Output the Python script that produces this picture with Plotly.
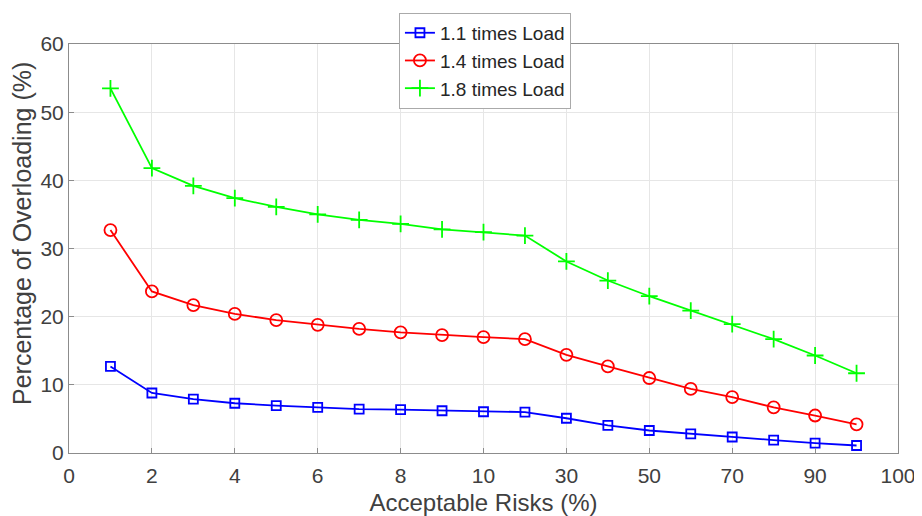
import plotly.graph_objects as go

risks = ["1", "2", "3", "4", "5", "6", "7", "8", "9", "10",
         "20", "30", "40", "50", "60", "70", "80", "90", "100"]
load_11 = [12.7, 8.8, 7.9, 7.3, 6.95, 6.7, 6.45, 6.35, 6.2, 6.05,
           6.0, 5.1, 4.05, 3.3, 2.8, 2.35, 1.9, 1.45, 1.1]
load_14 = [32.7, 23.7, 21.7, 20.4, 19.5, 18.8, 18.2, 17.7, 17.3, 17.0,
           16.7, 14.4, 12.7, 11.0, 9.4, 8.2, 6.7, 5.5, 4.2]
load_18 = [53.5, 41.8, 39.2, 37.4, 36.1, 35.0, 34.2, 33.6, 32.8, 32.4,
           31.9, 28.1, 25.3, 23.0, 20.9, 18.9, 16.7, 14.3, 11.7]
series_names = ["1.1 times Load", "1.4 times Load", "1.8 times Load"]
tick_positions = [0, 2, 4, 6, 8, 10, 12, 14, 16, 18, 20]
tick_labels = ["0", "2", "4", "6", "8", "10", "30", "50", "70", "90", "100"]
y_ticks = [0, 10, 20, 30, 40, 50, 60]

x_pos = list(range(1, len(risks) + 1))

FONT = "Liberation Sans, Arial, sans-serif"

fig = go.Figure()
styles = [
    ("#0000ff", "square-open", 9),
    ("#ff0000", "circle-open", 12),
    ("#00ff00", "cross-thin-open", 12),
]
for name, vals, (col, sym, sz) in zip(series_names, [load_11, load_14, load_18], styles):
    fig.add_trace(go.Scatter(
        x=x_pos, y=vals, name=name, mode="lines+markers",
        customdata=risks,
        line=dict(color=col, width=1.8),
        marker=dict(symbol=sym, size=sz, color=col, line=dict(color=col, width=1.8)),
        hovertemplate="Risk %{customdata}%%: %{y}<extra></extra>",
    ))

fig.update_layout(
    width=914, height=508,
    margin=dict(l=61, r=24, t=36, b=63, autoexpand=False),
    paper_bgcolor="white", plot_bgcolor="white",
    font=dict(family=FONT, size=20, color="#262626"),
    legend=dict(
        x=0.398, y=1.076, xanchor="left", yanchor="top",
        bgcolor="white", bordercolor="#aaaaaa", borderwidth=1,
        font=dict(size=19, color="#262626"),
        itemwidth=30, tracegroupgap=0,
    ),
    showlegend=True,
    annotations=[dict(
        text="Percentage of Overloading (%)", textangle=-90,
        xref="paper", yref="paper", x=-0.0567, y=0.538,
        xanchor="center", yanchor="middle", showarrow=False,
        font=dict(size=25, color="#404040"),
    )],
)
fig.update_xaxes(
    range=[0, 20], tickvals=tick_positions, ticktext=tick_labels,
    showgrid=True, gridcolor="#e6e6e6", gridwidth=1,
    showline=True, linecolor="#8c8c8c", linewidth=1, mirror=True,
    ticks="inside", ticklen=5, tickcolor="#8c8c8c",
    tickfont=dict(size=21, color="#404040"), ticklabelstandoff=4,
    title=dict(text="Acceptable Risks (%)", font=dict(size=24, color="#404040"), standoff=8),
    zeroline=False, automargin=False,
)
fig.update_yaxes(
    range=[0, 60], tickvals=y_ticks,
    showgrid=True, gridcolor="#e6e6e6", gridwidth=1,
    showline=True, linecolor="#8c8c8c", linewidth=1, mirror=True,
    ticks="inside", ticklen=5, tickcolor="#8c8c8c",
    tickfont=dict(size=21, color="#404040"),
    zeroline=False, automargin=False,
)

fig.write_html("out.html")
